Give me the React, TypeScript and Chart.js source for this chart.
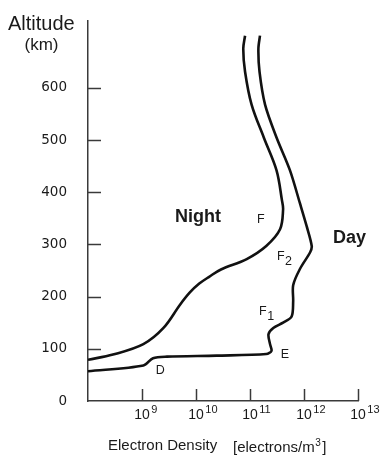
import { useEffect, useRef } from 'react';
import { Chart, registerables } from 'chart.js';

Chart.register(...registerables);

// Night profile: electron density [electrons/m^3] vs altitude [km]
const nightDensity = [1.0e8, 2.9e8, 1.06e9, 2.5e9, 5.1e9, 7.7e9, 1.15e10, 1.75e10, 2.9e10, 8.7e10, 2.0e11, 3.6e11, 4.1e11, 3.9e11, 3.1e11, 1.8e11, 1.07e11, 8.1e10, 7.5e10, 8.1e10];
const nightAltitude = [79, 89, 109, 140, 185, 208, 225, 238, 252, 272, 297, 329, 367, 385, 442, 505, 568, 631, 675, 700];

// Day profile
const dayDensity = [1.0e8, 1.06e9, 1.6e9, 2.9e9, 2.4e10, 2.0e11, 2.5e11, 2.35e11, 2.2e11, 2.7e11, 4.1e11, 5.9e11, 6.3e11, 6.3e11, 8.4e11, 1.3e12, 1.39e12, 1.12e12, 8.4e11, 5.5e11, 3.1e11, 1.9e11, 1.5e11, 1.43e11, 1.53e11];
const dayAltitude = [57, 68, 82, 85, 87, 90, 96, 109, 128, 140, 150, 162, 191, 222, 253, 285, 297, 335, 379, 442, 505, 568, 631, 675, 700];

// Axis ticks
const xTickExponents = [9, 10, 11, 12, 13];
const yTicks = [0, 100, 200, 300, 400, 500, 600];

// Region labels (anchored in data units: density, altitude)
const regionLabels = [
  { text: 'Night', sub: '', density: 4.1e9, altitude: 343, kind: 'big' },
  { text: 'Day', sub: '', density: 3.44e12, altitude: 302, kind: 'big' },
  { text: 'F', sub: '', density: 1.35e11, altitude: 341.5, kind: 'small' },
  { text: 'F', sub: '2', density: 3.16e11, altitude: 270, kind: 'small' },
  { text: 'F', sub: '1', density: 1.47e11, altitude: 164, kind: 'small' },
  { text: 'E', sub: '', density: 3.7e11, altitude: 83, kind: 'small' },
  { text: 'D', sub: '', density: 1.8e9, altitude: 51, kind: 'small' },
];

const SANS = '"Liberation Sans", Arial, sans-serif';
const TEXT = '#1a1a1a';
const AXIS = '#3a3a3a';

const overlay = {
  id: 'overlay',
  afterDraw(chart: any) {
    const { ctx, chartArea } = chart;
    const x = chart.scales.x;
    const y = chart.scales.y;
    ctx.save();
    // inner tick marks
    ctx.strokeStyle = AXIS;
    ctx.lineWidth = 1.5;
    yTicks.forEach((v) => {
      if (v === 0) return;
      const py = Math.round(y.getPixelForValue(v)) + 0.5;
      ctx.beginPath();
      ctx.moveTo(chartArea.left, py);
      ctx.lineTo(chartArea.left + 13, py);
      ctx.stroke();
    });
    xTickExponents.forEach((e) => {
      const px = Math.round(x.getPixelForValue(Math.pow(10, e))) + 0.5;
      ctx.beginPath();
      ctx.moveTo(px, chartArea.bottom);
      ctx.lineTo(px, chartArea.bottom - 12);
      ctx.stroke();
    });

    ctx.fillStyle = TEXT;
    ctx.textBaseline = 'alphabetic';
    ctx.textAlign = 'left';
    // x tick labels 10^n
    xTickExponents.forEach((e) => {
      const px = x.getPixelForValue(Math.pow(10, e));
      ctx.font = '14px ' + SANS;
      const w = ctx.measureText('10').width;
      ctx.fillText('10', px - w / 2, chartArea.bottom + 18);
      ctx.font = '11px ' + SANS;
      ctx.fillText(String(e), px + w / 2 + 1.5, chartArea.bottom + 12);
    });

    // x title
    ctx.font = '15px ' + SANS;
    ctx.fillText('Electron Density', 108, 450);
    const t1 = '[electrons/m';
    ctx.fillText(t1, 233, 451.5);
    const w1 = ctx.measureText(t1).width;
    ctx.font = '10px ' + SANS;
    ctx.fillText('3', 233 + w1 + 0.5, 446);
    const w3 = ctx.measureText('3').width;
    ctx.font = '15px ' + SANS;
    ctx.fillText(']', 233 + w1 + w3 + 2, 451.5);

    // y title
    ctx.font = '20px ' + SANS;
    ctx.fillText('Altitude', 8, 29.5);
    ctx.font = '17px ' + SANS;
    ctx.textAlign = 'center';
    ctx.fillText('(km)', 41.5, 50);
    ctx.textAlign = 'left';

    // region labels
    regionLabels.forEach((l) => {
      const px = x.getPixelForValue(l.density);
      const py = y.getPixelForValue(l.altitude);
      if (l.kind === 'big') {
        ctx.font = 'bold 18px ' + SANS;
        ctx.fillText(l.text, px, py);
      } else {
        ctx.font = '12.5px ' + SANS;
        ctx.fillText(l.text, px, py);
        if (l.sub) {
          const w = ctx.measureText(l.text).width;
          ctx.fillText(l.sub, px + w + 0.5, py + 4.7);
        }
      }
    });
    ctx.restore();
  },
};

export default function App() {
  const ref = useRef<HTMLCanvasElement | null>(null);

  useEffect(() => {
    document.body.style.margin = '0';
    const canvas = ref.current;
    if (!canvas) return;
    const toPoints = (xs: number[], ys: number[]) => xs.map((v, i) => ({ x: v, y: ys[i] }));
    const chart = new Chart(canvas, {
      type: 'scatter',
      data: {
        datasets: [
          {
            label: 'Night',
            data: toPoints(nightDensity, nightAltitude),
            showLine: true,
            borderColor: '#111',
            borderWidth: 2.6,
            pointRadius: 0,
            tension: 0.35,
            fill: false,
          },
          {
            label: 'Day',
            data: toPoints(dayDensity, dayAltitude),
            showLine: true,
            borderColor: '#111',
            borderWidth: 2.6,
            pointRadius: 0,
            tension: 0.3,
            fill: false,
          },
        ],
      },
      options: {
        responsive: false,
        animation: false,
        devicePixelRatio: 1,
        layout: { padding: { top: 15, right: 26, left: 0, bottom: 0 } },
        plugins: {
          legend: { display: false },
          tooltip: { enabled: false },
          title: { display: false },
        },
        scales: {
          x: {
            type: 'logarithmic',
            position: 'bottom',
            min: 1e8,
            max: 1e13,
            ticks: { display: false },
            grid: { display: false },
            border: { display: true, color: AXIS, width: 1.5 },
            afterFit: (scale: any) => {
              scale.height = 54;
            },
          },
          y: {
            type: 'linear',
            min: 0,
            max: 728,
            afterBuildTicks: (scale: any) => {
              scale.ticks = yTicks.map((v) => ({ value: v }));
            },
            ticks: {
              color: TEXT,
              font: { family: '"DejaVu Sans", sans-serif', size: 13.5 },
              padding: 13,
              callback: (v: any) => String(v),
            },
            grid: { display: false },
            border: { display: true, color: AXIS, width: 1.5 },
            afterFit: (scale: any) => {
              scale.width = 88;
            },
          },
        },
      },
      plugins: [overlay],
    });
    return () => chart.destroy();
  }, []);

  return (
    <div style={{ width: 384, height: 455 }}>
      <canvas ref={ref} width={384} height={455} style={{ display: 'block' }} />
    </div>
  );
}
